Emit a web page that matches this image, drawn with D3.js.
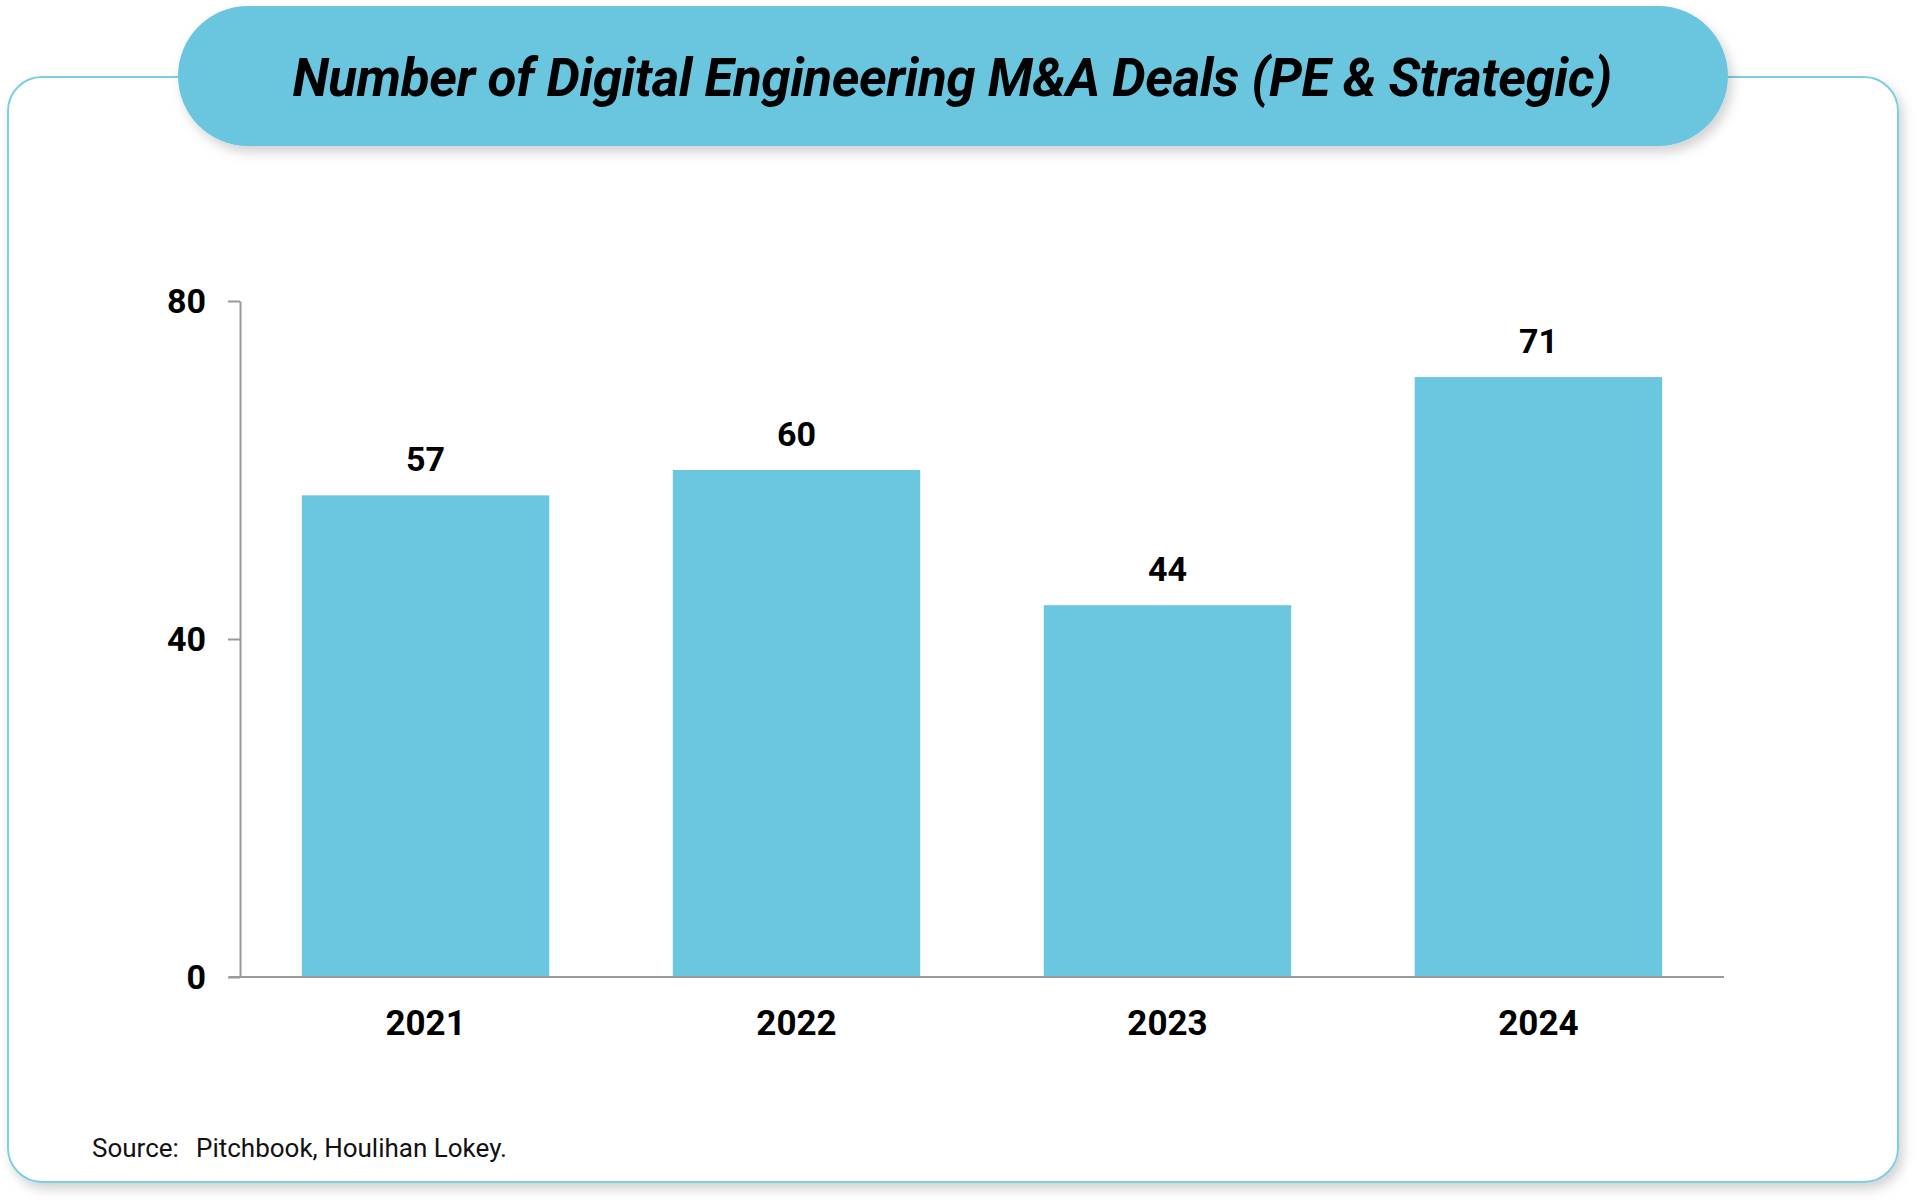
<!DOCTYPE html>
<html>
<head>
<meta charset="utf-8">
<script src="https://cdn.jsdelivr.net/npm/d3@7"></script>
<style>
  body { margin: 0; background: #fff; }
  text { font-family: Roboto, "Noto Sans", sans-serif; }
</style>
</head>
<body>
<svg id="chart"></svg>
<script>
// chart data
const years = ["2021", "2022", "2023", "2024"];
const deals = [57, 60, 44, 71];
const yTicks = [0, 40, 80];
const titleText = "Number of Digital Engineering M&A Deals (PE & Strategic)";
const sourceLabel = "Source:";
const sourceText = "Pitchbook, Houlihan Lokey.";

const width = 1920;
const height = 1203;
const blue = "#6bc6df";

const svg = d3.select("#chart")
  .attr("width", width)
  .attr("height", height);

// drop shadows for the card and the title pill
const defs = svg.append("defs");
const shadow = defs.append("filter")
  .attr("id", "shadow")
  .attr("x", "-5%").attr("y", "-20%")
  .attr("width", "110%").attr("height", "150%");
shadow.append("feDropShadow")
  .attr("dx", 4).attr("dy", 6)
  .attr("stdDeviation", 6)
  .attr("flood-color", "#000")
  .attr("flood-opacity", 0.18);

// outer card
svg.append("rect")
  .attr("x", 8).attr("y", 77)
  .attr("width", 1890).attr("height", 1105)
  .attr("rx", 34)
  .attr("fill", "#fff")
  .attr("stroke", "#7fcde2")
  .attr("stroke-width", 2)
  .attr("filter", "url(#shadow)");

// title pill
svg.append("rect")
  .attr("x", 178).attr("y", 6)
  .attr("width", 1550).attr("height", 140)
  .attr("rx", 70)
  .attr("fill", blue)
  .attr("filter", "url(#shadow)");

svg.append("text")
  .attr("x", 952).attr("y", 96)
  .attr("text-anchor", "middle")
  .attr("font-size", 53)
  .attr("font-weight", 700)
  .attr("font-style", "italic")
  .attr("letter-spacing", -0.45)
  .attr("fill", "#000")
  .text(titleText);

// plot area
const margin = { top: 301, left: 240, right: 196, bottom: 226 };
const innerW = width - margin.left - margin.right;
const innerH = height - margin.top - margin.bottom;

const g = svg.append("g")
  .attr("transform", `translate(${margin.left},${margin.top})`);

const x = d3.scaleBand()
  .domain(years)
  .range([0, innerW])
  .paddingInner(0.333)
  .paddingOuter(0.1667);

const y = d3.scaleLinear()
  .domain([0, 80])
  .range([innerH, 0]);

// bars
g.selectAll(".bar")
  .data(deals)
  .enter()
  .append("rect")
  .attr("class", "bar")
  .attr("x", (d, i) => x(years[i]))
  .attr("y", d => y(d))
  .attr("width", x.bandwidth())
  .attr("height", d => innerH - y(d))
  .attr("fill", blue);

// value labels
g.selectAll(".value")
  .data(deals)
  .enter()
  .append("text")
  .attr("class", "value")
  .attr("x", (d, i) => x(years[i]) + x.bandwidth() / 2)
  .attr("y", d => y(d) - 24)
  .attr("text-anchor", "middle")
  .attr("font-size", 34)
  .attr("font-weight", 700)
  .text(d => d);

// y axis
const yAxis = g.append("g")
  .call(d3.axisLeft(y).tickValues(yTicks).tickSize(12).tickPadding(22).tickSizeOuter(0));
yAxis.select(".domain").attr("stroke", "#999").attr("stroke-width", 2);
yAxis.selectAll(".tick line").attr("stroke", "#999").attr("stroke-width", 2);
yAxis.selectAll(".tick text")
  .attr("font-size", 34)
  .attr("font-weight", 700)
  .attr("fill", "#000")
  .attr("dy", "0.35em")
  .attr("font-family", "Roboto, sans-serif");

// x axis baseline, extending a little left of the y axis
const xAxis = g.append("g")
  .attr("transform", `translate(0,${innerH})`)
  .call(d3.axisBottom(x).tickSize(0).tickPadding(33));
xAxis.select(".domain")
  .attr("d", `M-11,0H${innerW}`)
  .attr("stroke", "#999")
  .attr("stroke-width", 2);
xAxis.selectAll(".tick text")
  .attr("font-size", 35)
  .attr("font-weight", 700)
  .attr("fill", "#000")
  .attr("dy", "0.71em")
  .attr("font-family", "Roboto, sans-serif");

// source note
svg.append("text")
  .attr("x", 92).attr("y", 1157)
  .attr("font-size", 26)
  .attr("fill", "#111")
  .text(sourceLabel);
svg.append("text")
  .attr("x", 196).attr("y", 1157)
  .attr("font-size", 26)
  .attr("fill", "#111")
  .text(sourceText);
</script>
</body>
</html>
